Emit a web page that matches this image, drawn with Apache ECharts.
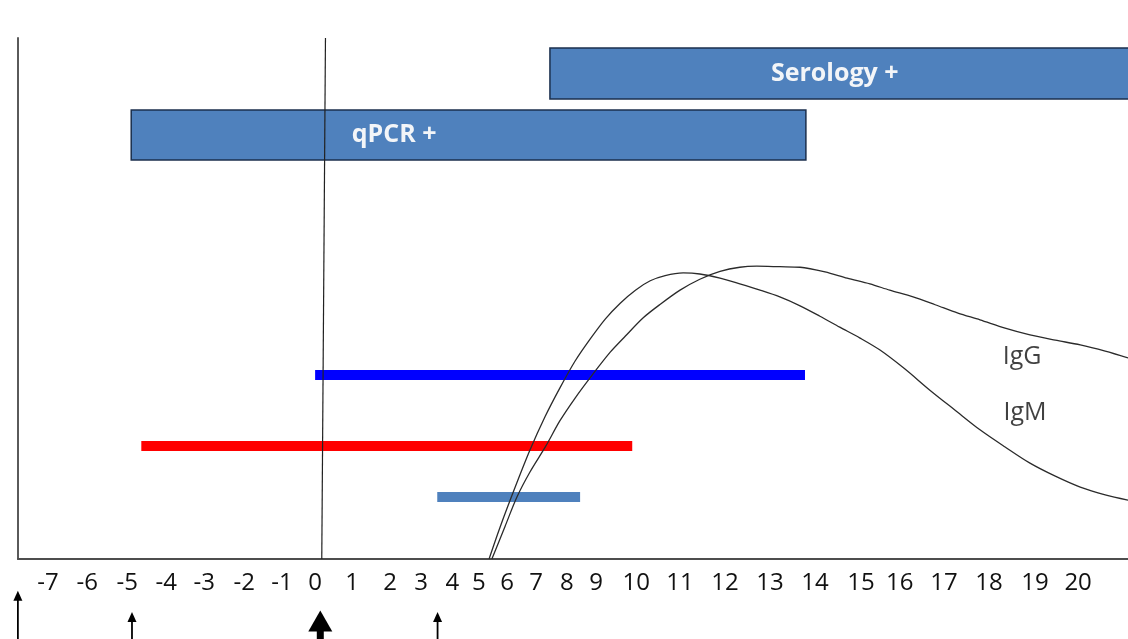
<!DOCTYPE html>
<html>
<head>
<meta charset="utf-8">
<script src="https://cdn.jsdelivr.net/npm/echarts@6/dist/echarts.min.js"></script>
<style>
  html, body { margin: 0; padding: 0; background: #ffffff; }
  #chart { width: 1128px; height: 639px; }
</style>
</head>
<body>
<div id="chart"></div>
<script>
// ---- Tick labels (days) and where the reference prints each one on the drawn scale ----
const tickDays = [-7,-6,-5,-4,-3,-2,-1,0,1,2,3,4,5,6,7,8,9,10,11,12,13,14,15,16,17,18,19,20];
const tickAt   = [-7.01,-5.98,-4.93,-3.91,-2.91,-1.86,-0.87,0,0.97,1.97,2.78,3.60,4.30,5.04,5.80,6.61,7.38,8.43,9.58,10.76,11.94,13.12,14.33,15.35,16.51,17.69,18.90,20.03];

// ---- Positive-test windows (boxes), in days / relative level ----
const boxNames   = ['Serology +', 'qPCR +'];
const boxStart   = [7.45, -4.9];
const boxEnd     = [22.5, 13.8];
const boxTop     = [98.1, 86.2];
const boxBottom  = [88.3, 76.6];
const boxLabelAt = [14.43, 2.13];

// ---- Horizontal bars (days) ----
const barStart  = [0.0, -4.64, 3.52];
const barEnd    = [13.78, 9.9, 8.45];
const barLevel  = [35.3, 21.7, 11.9];
const barColors = ['#0000FF', '#FF0000', '#4F81BD'];

// ---- Antibody curves [day, relative level] ----
const igM = [[5.36,0],[5.75,6.1],[6.28,13.8],[6.79,20.9],[7.29,27.3],[7.77,32.8],[8.28,38.0],[8.79,42.2],[9.23,46.1],[9.6,49.1],[9.98,51.6],[10.32,53.4],[10.66,54.4],[11.07,54.9],[11.44,54.7],[11.89,53.9],[12.33,52.8],[12.78,51.6],[13.22,50.3],[13.67,48.6],[14.11,46.6],[14.54,44.5],[14.98,42.4],[15.49,40.1],[16.11,36.5],[16.68,32.4],[17.24,28.6],[17.8,24.8],[18.35,21.5],[18.89,18.4],[19.47,15.9],[20.05,13.8],[20.63,12.3],[21.16,11.3]];
const igG = [[5.46,0],[5.93,6.3],[6.34,11.9],[6.79,16.7],[7.32,21.7],[7.77,26.5],[8.28,30.9],[8.86,35.3],[9.35,39.7],[9.73,42.8],[10.16,46.3],[10.55,48.9],[11.0,51.6],[11.44,53.7],[11.89,55.2],[12.33,56.0],[12.71,56.2],[13.22,56.1],[13.67,56.0],[14.22,55.1],[14.7,53.9],[15.23,52.8],[15.74,51.6],[16.3,50.3],[16.8,48.8],[17.31,47.2],[17.8,45.9],[18.35,44.3],[18.89,43.0],[19.47,42.0],[20.05,41.1],[20.63,39.9],[21.16,38.6]];
const curveNames   = ['IgG', 'IgM'];
const curveLabelAt = [[18.72, 38.8], [18.78, 28.0]];

// ---- Day-0 reference line ----
const zeroLine = [[0.28, 100], [0.18, 0]];

// ---- Event arrows below the axis ----
const arrowAt   = [-7.77, -4.88, 0.14, 3.53];
const arrowTip  = [0.93, 0.52, 0.55, 0.52];
const arrowBold = [false, false, true, false];

// piecewise mapping from printed days to the drawn scale
function toAxis(d) {
  const n = tickDays.length;
  let i = 0;
  if (d <= tickDays[0]) i = 0;
  else if (d >= tickDays[n - 1]) i = n - 2;
  else { while (i < n - 2 && d > tickDays[i + 1]) i++; }
  const t = (d - tickDays[i]) / (tickDays[i + 1] - tickDays[i]);
  return tickAt[i] + t * (tickAt[i + 1] - tickAt[i]);
}

const FONT = '"Open Sans", "Lato", sans-serif';
const chart = echarts.init(document.getElementById('chart'), null, { renderer: 'canvas' });

const series = [];

// boxes
series.push({
  type: 'custom',
  xAxisIndex: 0, yAxisIndex: 0,
  clip: true,
  data: boxNames.map((n, i) => [toAxis(boxStart[i]), toAxis(boxEnd[i]), boxTop[i], boxBottom[i], toAxis(boxLabelAt[i]), i]),
  renderItem: function (params, api) {
    const p0 = api.coord([api.value(0), api.value(2)]);
    const p1 = api.coord([api.value(1), api.value(3)]);
    const lx = api.coord([api.value(4), api.value(2)])[0];
    const idx = api.value(5);
    return {
      type: 'group',
      children: [
        { type: 'rect', shape: { x: p0[0], y: p0[1], width: p1[0] - p0[0], height: p1[1] - p0[1] },
          style: { fill: '#4F81BD', stroke: '#1B2F4D', lineWidth: 1.5 } },
        { type: 'text', x: lx, y: (p0[1] + p1[1]) / 2,
          style: { text: boxNames[idx], fill: '#F3F5F8', font: 'bold 25px ' + FONT, align: 'center', verticalAlign: 'middle' } }
      ]
    };
  },
  z: 2
});

// bars
barStart.forEach((s, i) => {
  series.push({
    type: 'line', xAxisIndex: 0, yAxisIndex: 0,
    data: [[toAxis(s), barLevel[i]], [toAxis(barEnd[i]), barLevel[i]]],
    symbol: 'none', lineStyle: { color: barColors[i], width: 10, cap: 'butt' },
    silent: true, z: 3
  });
});

// curves
[igG, igM].forEach((c) => {
  series.push({
    type: 'line', xAxisIndex: 0, yAxisIndex: 0,
    data: c.map(p => [toAxis(p[0]), p[1]]),
    smooth: 0.3, symbol: 'none',
    lineStyle: { color: '#2b2b2b', width: 1.3 },
    silent: true, z: 4
  });
});

// zero line
series.push({
  type: 'line', xAxisIndex: 0, yAxisIndex: 0,
  data: zeroLine.map(p => [toAxis(p[0]), p[1]]),
  symbol: 'none', lineStyle: { color: '#222', width: 1.2 }, silent: true, z: 5
});

// curve labels
series.push({
  type: 'scatter', xAxisIndex: 0, yAxisIndex: 0,
  data: curveLabelAt.map((p, i) => [toAxis(p[0]), p[1], curveNames[i]]),
  symbolSize: 0,
  label: { show: true, position: 'inside', formatter: p => p.value[2], color: '#111', fontSize: 25, fontFamily: FONT },
  silent: true, z: 6
});

// arrows
series.push({
  type: 'custom',
  xAxisIndex: 1, yAxisIndex: 1,
  clip: false,
  data: arrowAt.map((a, i) => [toAxis(a), arrowTip[i], arrowBold[i] ? 1 : 0]),
  renderItem: function (params, api) {
    const tip = api.coord([api.value(0), api.value(1)]);
    const base = api.coord([api.value(0), 0]);
    const bold = api.value(2) === 1;
    const x = tip[0], y = tip[1];
    if (bold) {
      return { type: 'group', children: [
        { type: 'polygon', shape: { points: [[x, y], [x - 12, y + 21], [x + 12, y + 21]] }, style: { fill: '#000' } },
        { type: 'rect', shape: { x: x - 3.5, y: y + 20, width: 7, height: base[1] - y - 20 }, style: { fill: '#000' } }
      ] };
    }
    return { type: 'group', children: [
      { type: 'polygon', shape: { points: [[x, y], [x - 4.5, y + 10], [x + 4.5, y + 10]] }, style: { fill: '#000' } },
      { type: 'line', shape: { x1: x, y1: y + 8, x2: x, y2: base[1] }, style: { stroke: '#000', lineWidth: 1.8 } }
    ] };
  },
  z: 5
});

const option = {
  animation: false,
  backgroundColor: '#ffffff',
  grid: [
    { left: 18, right: 0, top: 38, bottom: 80, containLabel: false },
    { left: 18, right: 0, top: 587, bottom: 0, containLabel: false }
  ],
  xAxis: [
    {
      type: 'value', gridIndex: 0, min: -7.8, max: 21.34,
      axisLine: { show: true, onZero: false, lineStyle: { color: '#4d4d4d', width: 2 } },
      axisTick: { show: false },
      splitLine: { show: false },
      axisLabel: {
        show: true,
        customValues: tickAt,
        formatter: function (v) {
          let best = 0;
          for (let i = 1; i < tickAt.length; i++) if (Math.abs(tickAt[i] - v) < Math.abs(tickAt[best] - v)) best = i;
          return String(tickDays[best]);
        },
        color: '#111', fontSize: 24, fontFamily: FONT, margin: 12
      }
    },
    { type: 'value', gridIndex: 1, min: -7.8, max: 21.34, show: false }
  ],
  yAxis: [
    {
      type: 'value', gridIndex: 0, min: 0, max: 100,
      axisLine: { show: true, onZero: false, lineStyle: { color: '#5a5a5a', width: 2 } },
      axisTick: { show: false }, axisLabel: { show: false }, splitLine: { show: false }
    },
    { type: 'value', gridIndex: 1, min: 0, max: 1, show: false }
  ],
  series: series
};
chart.setOption(option);
</script>
</body>
</html>
